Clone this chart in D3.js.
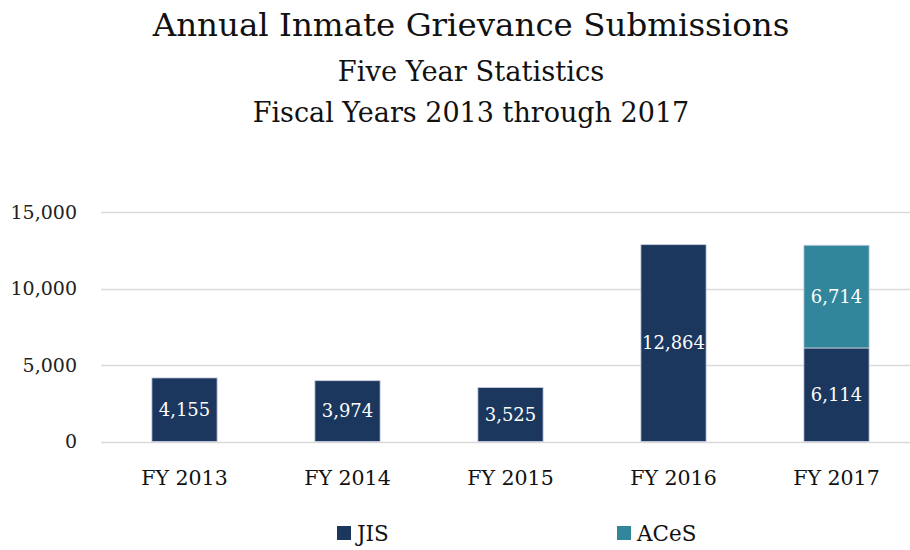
<!DOCTYPE html>
<html>
<head>
<meta charset="utf-8">
<script src="https://cdn.jsdelivr.net/npm/d3@7"></script>
<style>
  html, body { margin: 0; padding: 0; background: #fff; }
  svg { display: block; }
  text { font-family: "DejaVu Serif", "Liberation Serif", serif; }
</style>
</head>
<body>
<svg id="chart" width="910" height="550"></svg>
<script>
// Grievance submissions by fiscal year, split by system
const categories = ["FY 2013", "FY 2014", "FY 2015", "FY 2016", "FY 2017"];
const seriesNames = ["JIS", "ACeS"];
const jisValues = [4155, 3974, 3525, 12864, 6114];
const acesValues = [0, 0, 0, 0, 6714];
const yTicks = [0, 5000, 10000, 15000];
const colors = ["#1b375e", "#31869b"];
const titleLines = [
  "Annual Inmate Grievance Submissions",
  "Five Year Statistics",
  "Fiscal Years 2013 through 2017"
];

const svg = d3.select("#chart");

const rows = categories.map((c, i) => ({ cat: c, JIS: jisValues[i], ACeS: acesValues[i] }));
const stack = d3.stack().keys(seriesNames)(rows);

const x = d3.scaleBand().domain(categories).range([103, 918]).paddingInner(0.6).paddingOuter(0.3);
const y = d3.scaleLinear().domain([0, 15000]).range([441.5, 212]);
const color = d3.scaleOrdinal().domain(seriesNames).range(colors);

// Titles
const titleSizes = [32.5, 27.3, 27];
const titleY = [36, 81, 122];
titleLines.forEach((t, i) => {
  svg.append("text")
    .attr("x", 471).attr("y", titleY[i])
    .attr("text-anchor", "middle")
    .attr("font-size", titleSizes[i])
    .attr("fill", "#111")
    .text(t);
});

// Gridlines
svg.append("g").selectAll("line").data(yTicks).join("line")
  .attr("x1", 101).attr("x2", 910)
  .attr("y1", d => Math.round(y(d)) + 0.5).attr("y2", d => Math.round(y(d)) + 0.5)
  .attr("stroke", "#d9d9d9").attr("stroke-width", 1.3);

// Y axis labels
const fmt = d3.format(",");
svg.append("g").selectAll("text").data(yTicks).join("text")
  .attr("x", 77).attr("y", d => y(d))
  .attr("dy", "0.35em")
  .attr("text-anchor", "end")
  .attr("font-size", 19)
  .attr("fill", "#222")
  .text(d => fmt(d));

// Bars
const layers = svg.append("g").selectAll("g").data(stack).join("g")
  .attr("fill", d => color(d.key));
layers.selectAll("rect").data(d => d.filter(p => p[1] - p[0] > 0)).join("rect")
  .attr("x", d => x(d.data.cat))
  .attr("width", x.bandwidth())
  .attr("y", d => y(d[1]))
  .attr("height", d => y(d[0]) - y(d[1]))
  .attr("stroke", "#c9cee0")
  .attr("stroke-width", 0.8);

// Value labels
const labels = svg.append("g");
stack.forEach(layer => {
  layer.filter(p => p[1] - p[0] > 0).forEach(p => {
    labels.append("text")
      .attr("x", x(p.data.cat) + x.bandwidth() / 2)
      .attr("y", y((p[0] + p[1]) / 2))
      .attr("dy", "0.35em")
      .attr("text-anchor", "middle")
      .attr("font-size", 18)
      .attr("fill", "#fff")
      .text(fmt(p[1] - p[0]));
  });
});

// Category labels
svg.append("g").selectAll("text").data(categories).join("text")
  .attr("x", d => x(d) + x.bandwidth() / 2)
  .attr("y", 478)
  .attr("dy", "0.35em")
  .attr("text-anchor", "middle")
  .attr("font-size", 20.5)
  .attr("fill", "#111")
  .text(d => d);

// Legend
const legendX = [337, 617];
const legend = svg.append("g").selectAll("g").data(seriesNames).join("g")
  .attr("transform", (d, i) => `translate(${legendX[i]},526)`);
legend.append("rect").attr("width", 14).attr("height", 14).attr("fill", d => color(d));
legend.append("text").attr("x", 20).attr("y", 7).attr("dy", "0.35em")
  .attr("font-size", 21.5).attr("fill", "#111").text(d => d);
</script>
</body>
</html>
